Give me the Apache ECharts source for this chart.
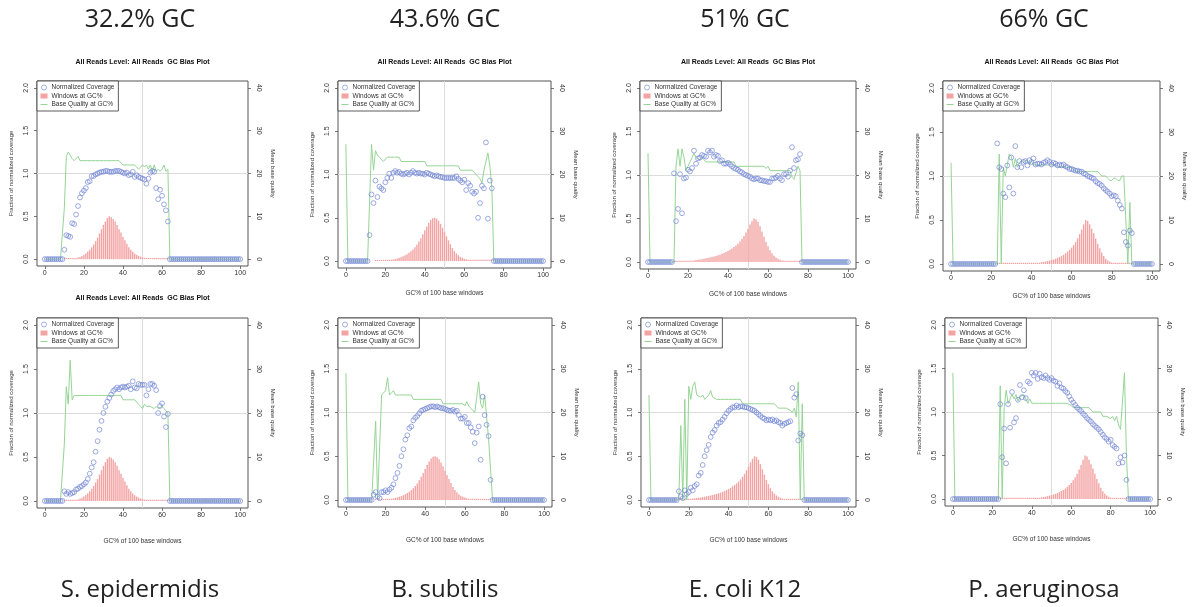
<!DOCTYPE html>
<html><head><meta charset="utf-8">
<script src="https://cdn.jsdelivr.net/npm/echarts@6/dist/echarts.min.js"></script>
<style>html,body{margin:0;padding:0;background:#fff}#c{width:1195px;height:607px}</style>
</head><body><div id="c"></div>
<script>
// ---------- tick labels / texts ----------
const GC_HEADERS = ['32.2% GC','43.6% GC','51% GC','66% GC'];
const ORGANISMS = ['S. epidermidis','B. subtilis','E. coli K12','P. aeruginosa'];
const PANEL_TITLE = 'All Reads Level: All Reads  GC Bias Plot';
const X_NAME = 'GC% of 100 base windows';
const Y_LEFT_NAME = 'Fraction of normalized coverage';
const Y_RIGHT_NAME = 'Mean base quality';
const S_COV = 'Normalized Coverage', S_WIN = 'Windows at GC%', S_QUAL = 'Base Quality at GC%';
const X_TICKS = [0,20,40,60,80,100];
const Y_LEFT_TICKS = [0,0.5,1,1.5,2];
const Y_RIGHT_TICKS = [0,10,20,30,40];

// ---------- windows at GC% (scaled, same genome top & bottom) ----------
const WIN_SE = [0,0,0,0,0,0,0,0,0,0,
 .002,.002,.003,.004,.006,.008,.012,.018,.026,.037,
 .05,.067,.088,.11,.14,.17,.21,.25,.30,.35,
 .40,.44,.48,.50,.49,.47,.44,.40,.35,.31,
 .26,.22,.18,.14,.11,.085,.065,.05,.038,.029,
 .022,.017,.013,.01,.008,.006,.005,.004,.003,.003,
 .002,.002,.002,.001,0,0,0,0,0,0,
 0,0,0,0,0,0,0,0,0,0, 0,0,0,0,0,0,0,0,0,0, 0,0,0,0,0,0,0,0,0,0, 0];
const WIN_BS = [0,0,0,0,0,0,0,0,0,0,
 0,0,0,0,0,.002,.002,.003,.004,.005,
 .007,.009,.012,.015,.019,.024,.03,.037,.045,.055,
 .067,.08,.095,.113,.135,.16,.19,.225,.265,.31,
 .355,.40,.44,.475,.495,.50,.49,.465,.43,.385,
 .335,.285,.24,.195,.15,.115,.088,.066,.05,.038,
 .028,.02,.015,.011,.008,.006,.004,.003,.002,.002,
 .002,.002,.001,.001,.001,0,0,0,0,0,
 0,0,0,0,0,0,0,0,0,0, 0,0,0,0,0,0,0,0,0,0, 0];
const WIN_EC = [0,0,0,0,0,0,0,0,0,0,
 0,0,0,.003,.004,.005,.006,.007,.008,.01,
 .012,.014,.016,.019,.022,.025,.029,.033,.038,.043,
 .048,.053,.058,.064,.07,.077,.085,.094,.104,.115,
 .127,.14,.155,.172,.19,.21,.235,.265,.30,.34,
 .38,.43,.47,.50,.49,.46,.41,.35,.29,.23,
 .18,.135,.10,.073,.052,.037,.026,.018,.013,.009,
 .007,.005,.004,.003,.002,.002,.001,.001,0,0,
 0,0,0,0,0,0,0,0,0,0, 0,0,0,0,0,0,0,0,0,0, 0];
const WIN_PA = [0,0,0,0,0,0,0,0,0,0,
 0,0,0,0,0,0,0,0,0,0,
 0,0,0,.002,.002,.002,.003,.003,.003,.004,
 .004,.004,.005,.005,.005,.006,.006,.007,.007,.008,
 .008,.009,.01,.011,.013,.02,.024,.028,.033,.039,
 .045,.052,.06,.069,.08,.092,.105,.12,.14,.16,
 .185,.215,.25,.29,.34,.39,.45,.50,.49,.45,
 .40,.35,.29,.23,.18,.13,.09,.06,.04,.026,
 .017,.011,.007,.005,.003,.002,.002,.001,.001,.001,
 .001,0,0,0,0,0,0,0,0,0, 0];

// ---------- normalized coverage ----------
const COV_SE_TOP = [0,0,0,0,0,0,0,0,0,0,
 .11,.28,.27,.26,.42,.41,.52,.62,.72,.77,
 .80,.83,.90,.91,.97,.97,.99,1.00,1.01,1.02,
 1.02,1.03,1.03,1.02,1.02,1.02,1.03,1.03,1.03,1.02,
 1.01,1.00,1.01,.98,.99,1.02,.96,.98,.96,.95,
 .94,.93,.88,.94,1.01,1.03,1.02,.83,.70,.81,
 .74,.64,.57,.44,0,0,0,0,0,0,
 0,0,0,0,0,0,0,0,0,0, 0,0,0,0,0,0,0,0,0,0, 0,0,0,0,0,0,0,0,0,0, 0];
const COV_BS_TOP = [0,0,0,0,0,0,0,0,0,0,
 0,0,.30,.77,.67,.93,.74,.86,.84,.82,
 .91,.96,1.01,.96,1.02,1.04,1.02,1.03,1.01,1.00,
 1.01,1.02,1.00,1.02,1.04,1.02,1.01,1.02,1.01,1.01,
 1.00,1.02,1.01,1.00,.99,.98,.99,.98,.97,.97,
 .96,.96,.96,.96,.96,.96,.98,.95,.93,.91,
 .94,.82,.90,.87,.80,.78,.80,.50,.67,.87,
 .84,1.37,.49,.93,.84,0,0,0,0,0,
 0,0,0,0,0,0,0,0,0,0, 0,0,0,0,0,0,0,0,0,0, 0];
const COV_EC_TOP = [0,0,0,0,0,0,0,0,0,0,
 0,0,0,1.02,.47,.61,1.01,.56,.96,.97,
 1.06,1.04,1.08,1.28,1.13,1.19,1.20,1.23,1.22,1.21,
 1.28,1.26,1.28,1.21,1.23,1.22,1.16,1.17,1.13,1.13,
 1.14,1.12,1.10,1.08,1.07,1.06,1.04,1.03,1.01,1.00,
 .99,.98,.96,.95,.96,.96,.94,.94,.93,.93,
 .92,.92,.96,.96,.97,.99,.96,.94,1.01,1.01,
 .98,1.05,1.32,1.08,1.17,1.18,1.24,0,0,0,
 0,0,0,0,0,0,0,0,0,0, 0,0,0,0,0,0,0,0,0,0, 0];
const COV_PA_TOP = [0,0,0,0,0,0,0,0,0,0,
 0,0,0,0,0,0,0,0,0,0,
 0,0,0,1.37,1.10,1.08,.80,.76,1.12,.87,
 1.21,.80,1.34,1.10,1.17,1.10,1.16,1.17,1.12,1.18,
 1.16,1.20,1.13,1.14,1.14,1.13,1.15,1.16,1.18,1.16,
 1.13,1.15,1.14,1.12,1.13,1.12,1.13,1.11,1.10,1.08,
 1.08,1.07,1.06,1.06,1.05,1.05,1.03,1.02,1.00,.99,
 .98,.97,.94,.92,.91,.89,.86,.84,.82,.80,
 .77,.78,.77,.72,.67,.63,.36,.25,.21,.38,
 .35,0,0,0,0,0,0,0,0,0, 0];
const COV_SE_BOT = [0,0,0,0,0,0,0,0,0,0,
 .11,.08,.10,.08,.09,.10,.13,.14,.16,.17,
 .19,.21,.25,.31,.38,.44,.56,.68,.81,.91,
 1.00,1.07,1.13,1.17,1.21,1.25,1.27,1.29,1.27,1.29,
 1.30,1.29,1.30,1.31,1.27,1.36,1.29,1.28,1.33,1.32,
 1.32,1.32,1.20,1.27,1.33,1.33,1.31,1.26,1.00,1.08,
 1.11,.96,.84,.99,0,0,0,0,0,0,
 0,0,0,0,0,0,0,0,0,0, 0,0,0,0,0,0,0,0,0,0, 0,0,0,0,0,0,0,0,0,0, 0];
const COV_BS_BOT = [0,0,0,0,0,0,0,0,0,0,
 0,0,0,0,.06,.09,.04,.02,.09,.09,
 .11,.09,.12,.14,.18,.25,.31,.39,.50,.58,
 .69,.74,.82,.84,.91,.94,.96,.99,1.02,1.03,
 1.04,1.05,1.06,1.07,1.07,1.06,1.07,1.06,1.05,1.05,
 1.04,1.03,1.02,1.02,1.03,1.01,1.02,.97,.93,.93,
 .95,.88,.88,.83,.78,.65,.77,.84,.46,1.18,
 .97,.86,.73,.23,0,0,0,0,0,0,
 0,0,0,0,0,0,0,0,0,0, 0,0,0,0,0,0,0,0,0,0, 0];
const COV_EC_BOT = [0,0,0,0,0,0,0,0,0,0,
 0,0,0,0,0,.10,.04,.02,.11,.07,
 .09,.14,.11,.16,.18,.28,.31,.40,.50,.57,
 .63,.72,.77,.80,.85,.88,.89,.92,.95,.99,
 1.02,1.04,1.06,1.06,1.08,1.06,1.07,1.07,1.06,1.06,
 1.05,1.04,1.03,1.02,1.00,.98,.96,.94,.93,.91,
 .92,.91,.92,.90,.91,.89,.88,.85,.87,.88,
 .89,.90,1.28,1.17,1.21,.68,.76,.74,0,0,
 0,0,0,0,0,0,0,0,0,0, 0,0,0,0,0,0,0,0,0,0, 0];
const COV_PA_BOT = [0,0,0,0,0,0,0,0,0,0,
 0,0,0,0,0,0,0,0,0,0,
 0,0,0,0,1.09,.48,.81,.41,1.09,.82,
 1.23,.88,.93,1.14,1.31,1.17,1.25,1.16,1.35,1.33,
 1.45,1.42,1.45,1.38,1.44,1.40,1.39,1.42,1.39,1.37,
 1.39,1.36,1.35,1.30,1.33,1.28,1.27,1.24,1.22,1.18,
 1.14,1.11,1.08,1.05,1.03,1.01,.98,.96,.93,.91,
 .89,.86,.84,.82,.80,.77,.74,.71,.69,.66,
 .68,.62,.60,.58,.41,.48,.42,.50,.22,0,
 0,0,0,0,0,0,0,0,0,0, 0];

// ---------- mean base quality ----------
const Q_SE_TOP = [0,0,0,0,0,0,0,0,0,0,
 12,24,25,25,23.5,23,23,24,23,23,
 23,23,23,23,23,23,23,23,23,23,
 23,23,23,23,23,23,23,23,23,23,
 22,22,22,22,22,22,22,22,21,21.5,
 22,21.5,22,21,22,20.5,22,20.5,21,20.5,
 21,22,20.5,21,0,0,0,0,0,0,
 0,0,0,0,0,0,0,0,0,0, 0,0,0,0,0,0,0,0,0,0, 0,0,0,0,0,0,0,0,0,0, 0];
const Q_BS_TOP = [27,0,0,0,0,0,0,0,0,0,
 0,0,0,27,21,25.5,24.5,24,23.5,23,
 23,24,24,24,24,24,24,24,23,23,
 23,23,23,23,23,23,23,23,23,23,
 23,22,22,22,22,22,22,22,22,22,
 22,22,22,22,22,22,22,22,21,21,
 21,21,21,21,21,21,20,19.5,19,18,
 21,23,25,22,17,0,0,0,0,0,
 0,0,0,0,0,0,0,0,0,0, 0,0,0,0,0,0,0,0,0,0, 0];
const Q_EC_TOP = [25,0,0,0,0,0,0,0,0,0,
 0,0,0,0,22,26,22,26,24,21,
 22,23,24,25,24,24,23.5,24,23.5,23,
 23,23,23,23,23,23,23,23,23,23,
 23,23,23,23,22,22,22,22,22,22,
 22,22,22,22,22,22,22,22,22,21.5,
 22,21,21,21,21,21,21,21,21,21,
 21,21,19.5,19,19,22,21,0,0,0,
 0,0,0,0,0,0,0,0,0,0, 0,0,0,0,0,0,0,0,0,0, 0];
const Q_PA_TOP = [23,0,0,0,0,0,0,0,0,0,
 0,0,0,0,0,0,0,0,0,0,
 0,0,0,0,25,0,22,20,22.5,25,
 24.5,22,24,22,23,23.5,23,23.5,23.5,22.5,
 23.5,22.5,22.5,22.5,22.5,22.5,22.5,22.5,22.5,22.5,
 22.5,22.5,22.5,22,22,22,22,22,22,22,
 22,21.5,21,21,21,21,21,21,21,21,
 21,21,21,21,20.5,20,20,20,19.5,19,
 19,19.5,19.5,19,19,20,20,10,0,14,
 0,0,0,0,0,0,0,0,0,0, 0];
const Q_SE_BOT = [0,0,0,0,0,0,0,0,0,0,
 13,26,22,32,23,24,24,24,24,24,
 24,24,24,24,24,24,24,24,24,24,
 24,24,24,24,24,24,24,24,24,24,
 23,23,23,23,23,23,23,22.5,22,21.5,
 21,22,21.5,21.5,21.5,21.5,21,21.5,21,21,
 21.5,21,20.5,20,0,0,0,0,0,0,
 0,0,0,0,0,0,0,0,0,0, 0,0,0,0,0,0,0,0,0,0, 0,0,0,0,0,0,0,0,0,0, 0];
const Q_BS_BOT = [29,0,0,0,0,0,0,0,0,0,
 0,0,0,0,0,18,0,0,24,24,
 25,28,24,24.5,25,24,24,24,24,24,
 24,24,24,24,23,23,23,23,23,23,
 23,23,23,23,23,23,23,23,23,22,
 22,22,22,22,22,22,22,22,22,22,
 21.5,22.5,21.5,21,21,20,20,27,22,21,
 24,19,14,7,0,0,0,0,0,0,
 0,0,0,0,0,0,0,0,0,0, 0,0,0,0,0,0,0,0,0,0, 0];
const Q_EC_BOT = [24,0,0,0,0,0,0,0,0,0,
 0,0,0,0,0,0,17,0,23,0,
 26,23,26,27,24,24,23.5,24,23,23.5,
 24,25,23.5,23.5,23,23,23,23,23,23,
 23,23,23,23,23,23,23,22,22,22,
 22,22,22,22,22,22,22,22,22,22,
 22,22,22,22,22,21,21,21,21,21,
 21,20.5,20,21,19,27,0,22,0,0,
 0,0,0,0,0,0,0,0,0,0, 0,0,0,0,0,0,0,0,0,0, 0];
const Q_PA_BOT = [29,0,0,0,0,0,0,0,0,0,
 0,0,0,0,0,0,0,0,0,0,
 0,0,0,0,26,0,21,25,22,23,
 24,23,24,22.5,23.5,23.5,24,23,22,23,
 22,22,22,22,22,22,22,22,22,22,
 22,22,22,22,22,22,22,22,22,22,
 21.5,21,21,21,21,21,21,21,21,21,
 21,20,20,20,20,20,19,19,19,19,
 18.5,19,18,19,17,16,22.5,29,10,0,
 0,0,0,0,0,0,0,0,0,0, 0];

// ---------- panel layout (plot-box pixel edges) ----------
const PANELS = [
 {box:[37,81,248,266],  cov:COV_SE_TOP, q:Q_SE_TOP, win:WIN_SE, title:true,  xname:false},
 {box:[338,81,551,268], cov:COV_BS_TOP, q:Q_BS_TOP, win:WIN_BS, title:true,  xname:true},
 {box:[640,81,856,269], cov:COV_EC_TOP, q:Q_EC_TOP, win:WIN_EC, title:true,  xname:true},
 {box:[943,81,1160,271],cov:COV_PA_TOP, q:Q_PA_TOP, win:WIN_PA, title:true,  xname:true},
 {box:[37,318,248,508], cov:COV_SE_BOT, q:Q_SE_BOT, win:WIN_SE, title:true,  xname:true},
 {box:[338,318,552,507],cov:COV_BS_BOT, q:Q_BS_BOT, win:WIN_BS, title:false, xname:true},
 {box:[641,318,856,507],cov:COV_EC_BOT, q:Q_EC_BOT, win:WIN_EC, title:false, xname:true},
 {box:[945,318,1158,506],cov:COV_PA_BOT,q:Q_PA_BOT, win:WIN_PA, title:false, xname:true}
];
const HEADER_X = [140,445,745,1044];

const SMALL_FONT = 'Liberation Sans, Arial, sans-serif';
const BIG_FONT = '"Open Sans", Lato, sans-serif';
const C_COV = '#6d83d2', C_WIN = '#f4a3a3', C_QUAL = '#96d596', C_BOX = '#555', C_TXT = '#333';

const grid = [], xAxis = [], yAxis = [], series = [], legend = [], graphic = [];
PANELS.forEach((p, i) => {
  const [x1, y1, x2, y2] = p.box;
  grid.push({left:x1, top:y1, width:x2-x1, height:y2-y1, show:true, borderColor:C_BOX, borderWidth:1, backgroundColor:'#fff'});
  const row = i < 4 ? 0 : 1;
  xAxis.push({type:'value', gridIndex:i, min:-4, max:104,
    name: p.xname ? X_NAME : '', nameLocation:'middle', nameGap: row === 0 ? 22 : 30,
    nameTextStyle:{fontSize:6.5, color:C_TXT, fontFamily:SMALL_FONT},
    axisLine:{show:false, onZero:false}, splitLine:{show:false},
    axisTick:{show:true, length:3, lineStyle:{color:C_BOX, width:0.8}, customValues:X_TICKS},
    axisLabel:{fontSize:7, color:C_TXT, margin:4, fontFamily:SMALL_FONT, customValues:X_TICKS}});
  yAxis.push({type:'value', gridIndex:i, position:'left', min:-0.08, max:2.08,
    name:Y_LEFT_NAME, nameLocation:'middle', nameGap:23, nameRotate:90,
    nameTextStyle:{fontSize:6, color:C_TXT, fontFamily:SMALL_FONT},
    axisLine:{show:false, onZero:false}, splitLine:{show:false},
    axisTick:{show:true, length:3, lineStyle:{color:C_BOX, width:0.8}, customValues:Y_LEFT_TICKS},
    axisLabel:{fontSize:7, color:C_TXT, margin:7, rotate:90, fontFamily:SMALL_FONT, customValues:Y_LEFT_TICKS,
      formatter: v => Number(v).toFixed(1)}});
  yAxis.push({type:'value', gridIndex:i, position:'right', min:-1.6, max:41.6,
    name:Y_RIGHT_NAME, nameLocation:'middle', nameGap:22, nameRotate:-90,
    nameTextStyle:{fontSize:6, color:C_TXT, fontFamily:SMALL_FONT},
    axisLine:{show:false, onZero:false}, splitLine:{show:false},
    axisTick:{show:true, length:3, lineStyle:{color:C_BOX, width:0.8}, customValues:Y_RIGHT_TICKS},
    axisLabel:{fontSize:7, color:C_TXT, margin:7, rotate:-90, fontFamily:SMALL_FONT, customValues:Y_RIGHT_TICKS}});

  series.push({name:S_WIN, type:'bar', xAxisIndex:i, yAxisIndex:2*i, barWidth:1.4, barMinHeight:1.2,
    itemStyle:{color:C_WIN}, silent:true, z:1,
    data: p.win.map((v, k) => [k, v > 0 ? v : null])});
  series.push({name:S_QUAL, type:'line', xAxisIndex:i, yAxisIndex:2*i+1, showSymbol:false, symbol:'none',
    lineStyle:{color:C_QUAL, width:1}, itemStyle:{color:C_QUAL}, silent:true, z:3,
    data: p.q.map((v, k) => [k, v])});
  series.push({name:S_COV, type:'scatter', xAxisIndex:i, yAxisIndex:2*i, symbol:'circle', symbolSize:4.8,
    itemStyle:{color:'rgba(255,255,255,0)', borderColor:C_COV, borderWidth:0.85}, silent:true, z:4,
    data: p.cov.map((v, k) => [k, v]),
    markLine:{silent:true, symbol:['none','none'], label:{show:false},
      lineStyle:{color:'#dcdcdc', width:1, type:'solid'}, z:0,
      data:[{xAxis:50},{yAxis:1}]}});

  legend.push({left:x1, top:y1, orient:'vertical', selectedMode:false,
    itemWidth:7, itemHeight:5, itemGap:1.5, padding:[3,4,3,3],
    borderColor:'#333', borderWidth:0.8, backgroundColor:'#fff',
    textStyle:{fontSize:6.5, color:C_TXT, fontFamily:SMALL_FONT, padding:[0,0,0,-1]},
    data:[{name:S_COV, icon:'circle', itemStyle:{color:'#fff', borderColor:C_COV, borderWidth:0.8}},
          {name:S_WIN, icon:'rect'},
          {name:S_QUAL, itemStyle:{opacity:0}, lineStyle:{width:1}}]});

  if (p.title) {
    graphic.push({type:'text', x:(x1+x2)/2, y: row === 0 ? 62 : 298,
      style:{text:PANEL_TITLE, font:'bold 7px ' + SMALL_FONT, fill:'#111', align:'center', verticalAlign:'middle'}});
  }
});
GC_HEADERS.forEach((t, j) => graphic.push({type:'text', x:HEADER_X[j], y:20,
  style:{text:t, font:'25px ' + BIG_FONT, fill:'#222', align:'center', verticalAlign:'middle'}}));
ORGANISMS.forEach((t, j) => graphic.push({type:'text', x:HEADER_X[j], y:590,
  style:{text:t, font:'24px ' + BIG_FONT, fill:'#222', align:'center', verticalAlign:'middle'}}));

const chart = echarts.init(document.getElementById('c'), null, {renderer:'canvas'});
chart.setOption({animation:false, backgroundColor:'#fff', grid, xAxis, yAxis, series, legend, graphic});
</script></body></html>
